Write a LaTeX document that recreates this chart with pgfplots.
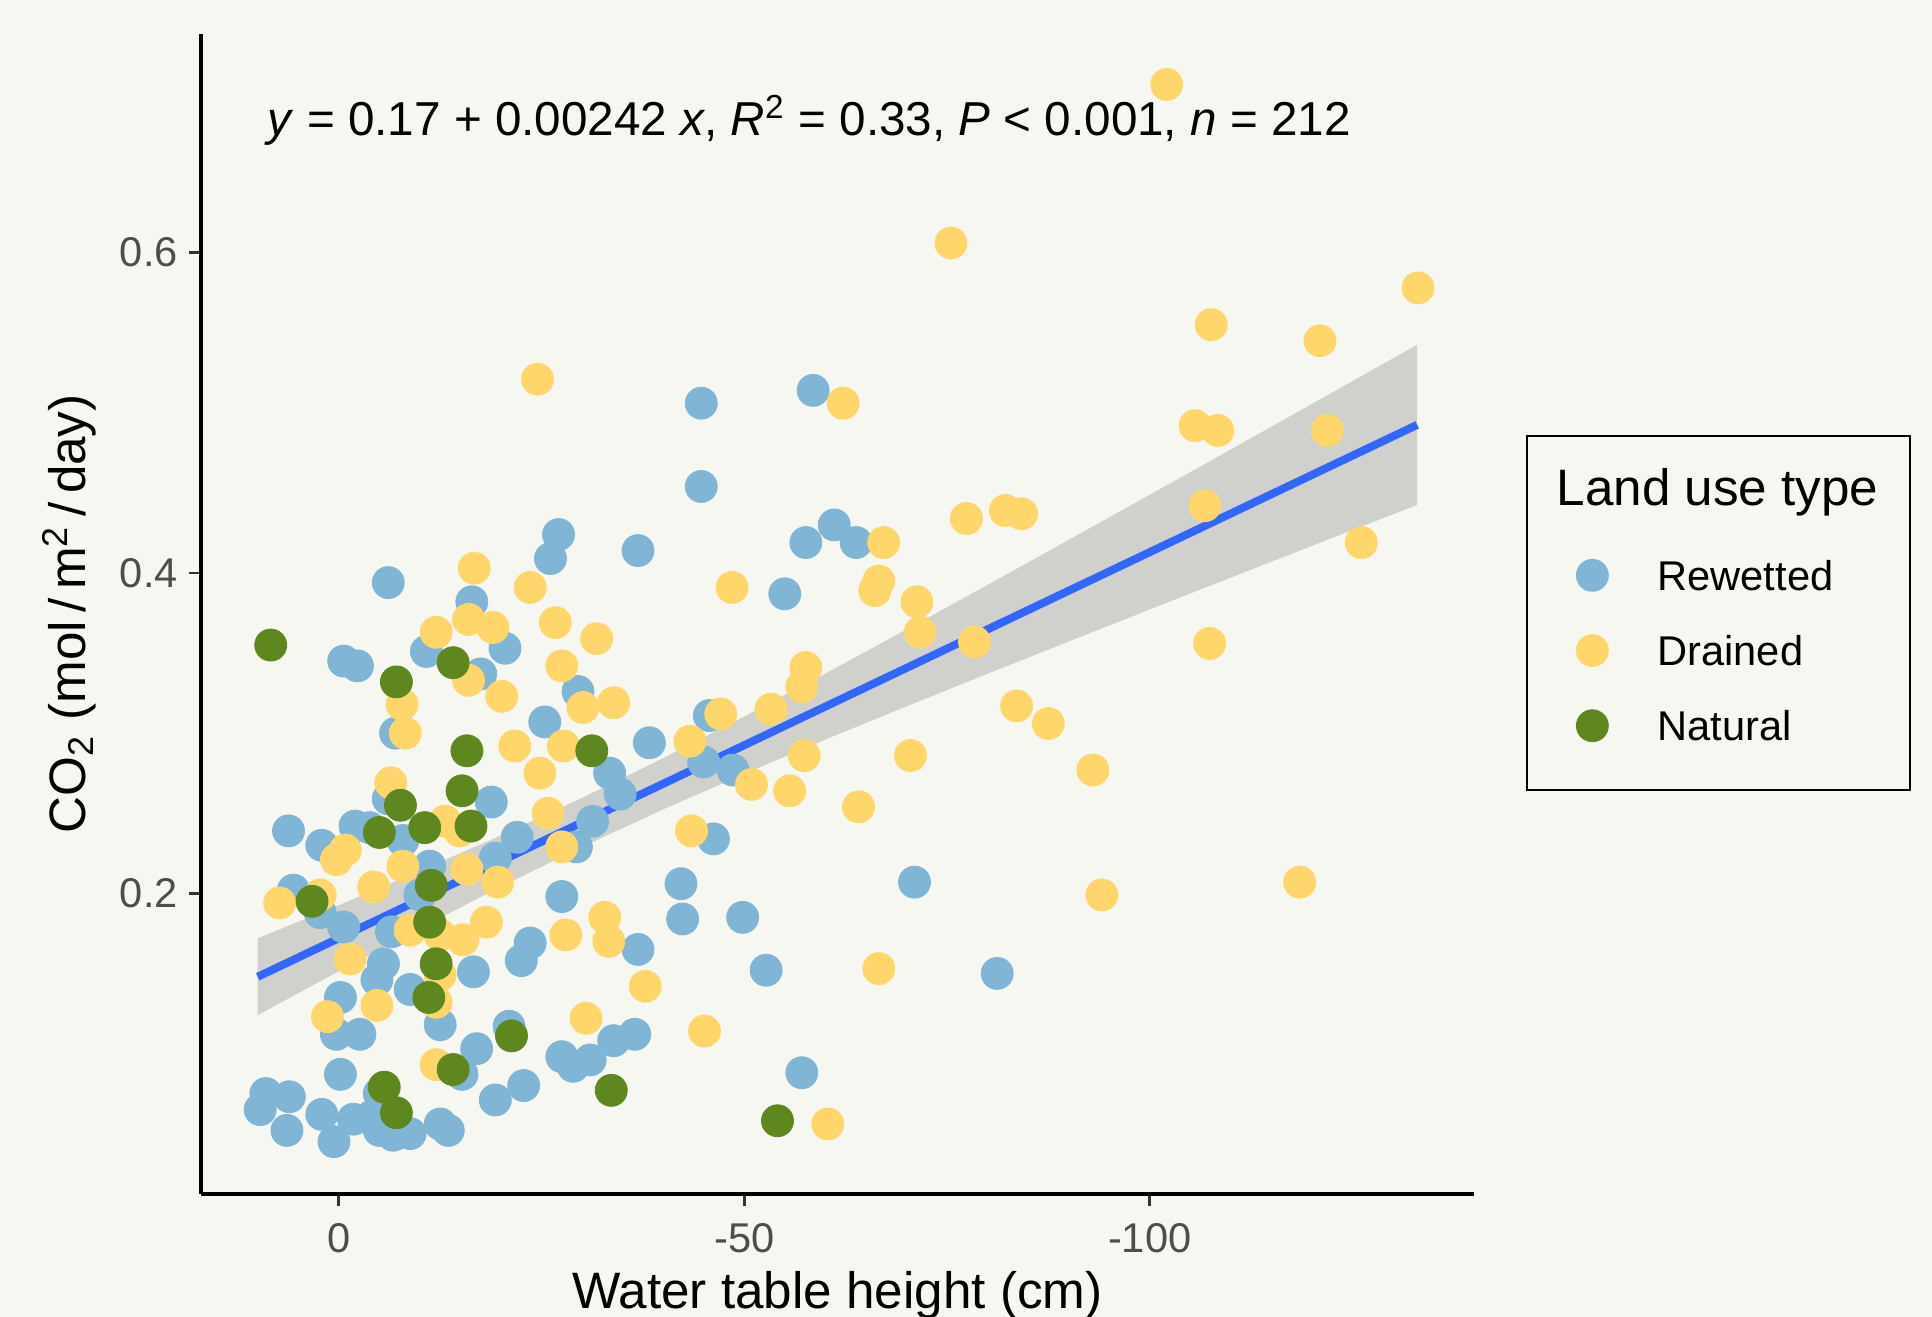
\documentclass[border=0pt]{standalone}
\usepackage{pgfplots}
\pgfplotsset{compat=1.18}
\usepackage{fontspec}
\setmainfont{Liberation Sans}
\definecolor{bg}{HTML}{F5F7F0}
\definecolor{rew}{HTML}{80B5D5}
\definecolor{dra}{HTML}{FFD66B}
\definecolor{nat}{HTML}{5E871F}
\definecolor{fitb}{HTML}{3366FF}
\definecolor{g60}{HTML}{999999}
\definecolor{g30}{HTML}{4D4D4D}
\definecolor{g20}{HTML}{333333}
\begin{document}
\begin{tikzpicture}
\fill[bg] (-50.25pt,-30.75pt) rectangle (432.75pt,298.5pt);
\begin{axis}[
  at={(0pt,0pt)}, anchor=south west,
  scale only axis, width=318.25pt, height=290pt,
  xmin=-140, xmax=17, x dir=reverse,
  ymin=0.0123, ymax=0.7365,
  axis x line*=bottom, axis y line*=left,
  axis line style={line width=1pt, black},
  tick align=outside, major tick length=3pt,
  tick style={line width=0.7pt, color=g20},
  xtick={0,-50,-100}, xticklabels={0,-50,-100},
  ytick={0.2,0.4,0.6}, yticklabels={0.2,0.4,0.6},
  minor tick num=0,
  tick label style={font=\fontsize{10.4}{12}\selectfont, text=g30, inner sep=0pt},
  xticklabel style={anchor=north, yshift=-4.1pt},
  yticklabel style={anchor=east, xshift=-2.6pt},
  xlabel={Water table height (cm)},
  ylabel={CO\textsubscript{2} (mol\,/\,m\textsuperscript{2}\,/\,day)},
  label style={font=\fontsize{12.8}{15}\selectfont, inner sep=0pt},
  xlabel style={at={(axis description cs:0.5,-0.0983)}, anchor=base},
  ylabel style={at={(axis description cs:-0.0911,0.5)}, anchor=base},
  legend style={at={(1.0798,0.5478)}, anchor=north west, draw=none, fill=none,
    inner sep=0pt, row sep=10.8pt, column sep=12.3pt,
    font=\fontsize{10.4}{12}\selectfont,
    nodes={inner sep=0pt, text height=7.5pt, text depth=0pt}},
  legend cell align=left,
  legend image code/.code={\draw[#1] plot coordinates {(0pt,0pt)};},
  clip=false,
]
\addplot[only marks, mark=*, mark size=4pt, color=rew, mark options={line width=0.2pt}] table {
x y
-44.7 0.506
-58.5 0.514
-44.7 0.454
-27.1 0.424
-26.1 0.409
-36.9 0.414
-6.1 0.394
-61.1 0.430
-63.8 0.419
-57.6 0.419
-55.0 0.387
-16.4 0.382
-0.6 0.345
-2.3 0.342
-10.8 0.351
-20.5 0.353
-17.5 0.337
-29.5 0.326
-25.4 0.307
-7.0 0.300
-38.3 0.294
-45.7 0.311
-33.4 0.275
-34.7 0.262
-45.0 0.282
-48.6 0.277
-18.8 0.257
-6.1 0.259
6.2 0.239
2.1 0.230
-2.0 0.242
-3.8 0.241
-7.9 0.233
-22.0 0.235
-31.3 0.245
-29.3 0.229
-19.3 0.222
-46.2 0.234
5.6 0.202
2.3 0.188
-0.6 0.179
-6.5 0.176
-10.0 0.199
-11.2 0.217
-27.5 0.198
-42.2 0.206
-42.4 0.184
-49.8 0.185
-71.0 0.207
-36.9 0.165
-23.6 0.169
-22.5 0.158
-5.5 0.156
-16.6 0.151
-52.7 0.152
-81.2 0.150
-4.7 0.146
-0.2 0.135
-8.8 0.140
-12.5 0.118
0.3 0.112
-2.6 0.112
-21.0 0.117
-33.9 0.108
-36.5 0.112
-17.0 0.103
-27.5 0.098
-28.9 0.092
-31.0 0.096
-57.1 0.088
-0.2 0.087
-15.2 0.087
-5.0 0.075
-22.8 0.080
-19.3 0.071
9.0 0.075
6.1 0.073
9.7 0.065
6.4 0.052
2.1 0.062
0.6 0.045
-1.8 0.059
-5.0 0.052
-6.7 0.049
-8.8 0.050
-12.5 0.056
-13.5 0.052
-4.1 0.061
};
\addlegendentry{Rewetted}
\addplot[only marks, mark=*, mark size=4pt, color=dra, mark options={line width=0.2pt}] table {
x y
-102.1 0.705
-75.5 0.606
-133.1 0.578
-107.6 0.555
-121.0 0.545
-24.5 0.521
-62.2 0.506
-105.6 0.492
-108.4 0.489
-121.9 0.489
-106.8 0.442
-126.1 0.419
-107.4 0.356
-77.4 0.434
-82.2 0.439
-84.2 0.437
-67.2 0.419
-66.6 0.395
-66.1 0.389
-48.5 0.391
-71.3 0.382
-71.7 0.363
-78.4 0.357
-57.6 0.341
-57.1 0.329
-47.1 0.312
-53.3 0.315
-43.3 0.295
-57.4 0.286
-70.5 0.286
-83.6 0.317
-87.5 0.306
-93.0 0.277
-50.9 0.268
-55.6 0.264
-64.1 0.254
-43.5 0.239
-94.1 0.199
-118.5 0.207
-66.6 0.153
-37.8 0.142
-45.1 0.114
-60.3 0.056
-16.7 0.403
-23.6 0.391
-12.0 0.363
-16.0 0.371
-19.0 0.366
-26.7 0.369
-31.8 0.359
-27.5 0.342
-16.0 0.333
-20.1 0.323
-30.1 0.316
-33.9 0.319
-7.8 0.318
-8.2 0.300
-21.7 0.292
-27.7 0.292
-24.8 0.275
-6.4 0.269
-25.8 0.250
-13.1 0.245
-14.9 0.239
-0.8 0.227
0.3 0.221
7.3 0.194
2.3 0.199
-4.3 0.204
-7.9 0.217
-15.8 0.215
-19.6 0.207
-27.5 0.229
-1.4 0.159
-12.5 0.174
-15.3 0.171
-18.2 0.182
-12.0 0.132
-4.7 0.130
1.4 0.123
-30.5 0.122
-32.8 0.185
-33.3 0.170
-28.0 0.174
-12.0 0.093
-8.8 0.177
-12.5 0.149
};
\addlegendentry{Drained}
\addplot[only marks, mark=*, mark size=4pt, color=nat, mark options={line width=0.2pt}] table {
x y
8.4 0.355
-7.1 0.332
-14.1 0.344
-15.8 0.289
-31.2 0.289
-15.2 0.264
-7.6 0.255
-10.6 0.241
-16.3 0.242
-5.0 0.238
3.3 0.195
-11.2 0.182
-12.0 0.156
-11.1 0.135
-21.3 0.111
-14.1 0.090
-5.6 0.079
-7.1 0.063
-33.6 0.077
-54.1 0.058
-11.4 0.205
};
\addlegendentry{Natural}
\addplot[forget plot, draw=none, fill=g60, fill opacity=0.4] coordinates {
(10,0.1719) (0,0.1926) (-10,0.2140) (-20,0.2362) (-30,0.2596) (-40,0.2844)
(-50,0.3104) (-60,0.3372) (-70,0.3647) (-80,0.3925) (-90,0.4206) (-100,0.4488)
(-110,0.4771) (-120,0.5055) (-133,0.5425)
(-133,0.4425) (-120,0.4169) (-110,0.3971) (-100,0.3772) (-90,0.3572) (-80,0.3371)
(-70,0.3167) (-60,0.2960) (-50,0.2746) (-40,0.2524) (-30,0.2290) (-20,0.2042)
(-10,0.1782) (0,0.1514) (10,0.1239)
} -- cycle;
\addplot[forget plot, color=fitb, line width=2pt] coordinates {(10,0.1479) (-133,0.4925)};
\end{axis}
\draw[line width=0.7pt, black] (331.5pt,101pt) rectangle (427.25pt,189.5pt);
\node[anchor=base west, inner sep=0pt, font=\fontsize{12.8}{15}\selectfont] at (338.75pt,172pt) {Land use type};
\node[anchor=base west, inner sep=0pt, font=\fontsize{11.9}{14}\selectfont] at (16.5pt,264.6pt) {\textit{y} = 0.17 + 0.00242 \textit{x}, \textit{R}\textsuperscript{2} = 0.33, \textit{P} < 0.001, \textit{n} = 212};
\pgfresetboundingbox
\path[use as bounding box] (-50.25pt,-30.75pt) rectangle (432.75pt,298.5pt);
\end{tikzpicture}
\end{document}
